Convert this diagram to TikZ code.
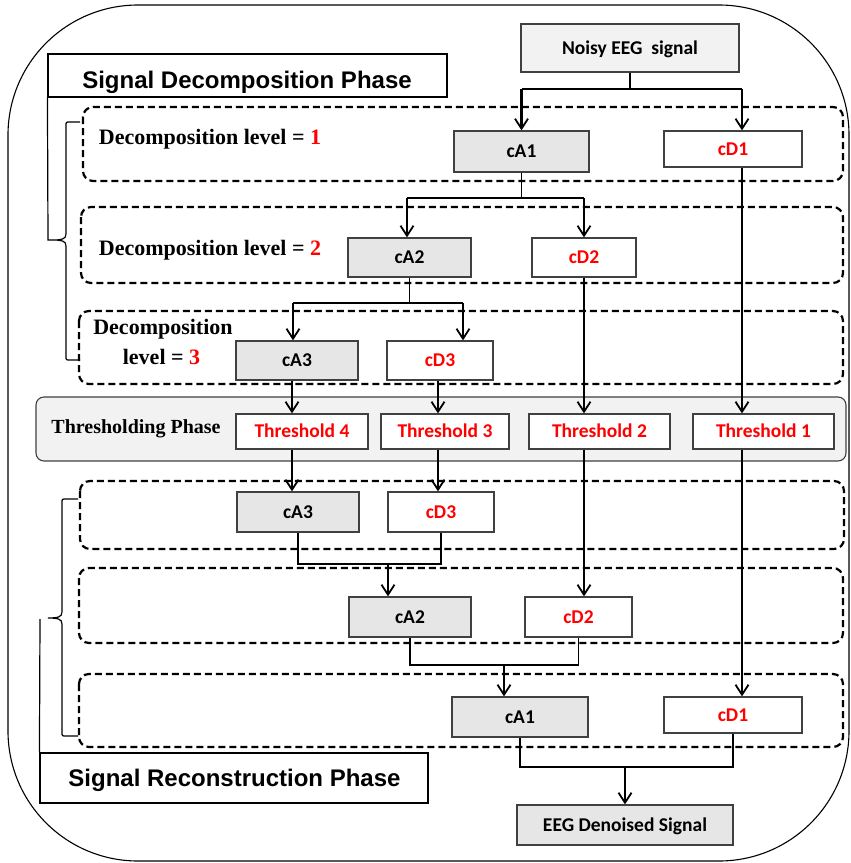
\documentclass[tikz,border=0pt]{standalone}
\usepackage{fontspec}
\setmainfont{Liberation Serif}
\newfontfamily\calfont{Carlito}
\newfontfamily\arialfont{Liberation Sans}
\usetikzlibrary{arrows.meta,calc}
\definecolor{grayA}{RGB}{230,230,230}
\definecolor{grayB}{RGB}{242,242,242}
\definecolor{edge}{RGB}{64,64,64}
\begin{document}
\begin{tikzpicture}[x=1pt,y=-1pt,
  bx/.style={draw=edge, line width=1.3pt, inner sep=0pt,
    font=\calfont\bfseries\fontsize{19.5}{22}\selectfont, text height=12pt, text depth=0pt, align=center},
  ga/.style={bx, fill=grayA, text=black},
  rd/.style={bx, fill=white, text=red},
  dbox/.style={draw=black, line width=2.2pt, dash pattern=on 7pt off 4pt, rounded corners=10pt},
  arr/.style={line width=2.2pt, -{Straight Barb[length=10pt,width=13pt,line width=1.8pt]}},
  stem/.style={line width=1.1pt},
  hbar/.style={line width=1.8pt},
  phbox/.style={draw=black, line width=1.1pt, fill=white, inner sep=0pt},
  phtext/.style={font=\arialfont\bfseries\fontsize{24}{28}\selectfont, anchor=base, inner sep=0pt},
  levtext/.style={font=\bfseries\fontsize{22}{26}\selectfont, anchor=base, inner sep=0pt},
  brace/.style={line width=1.2pt}
]
\useasboundingbox (0,0) rectangle (851,863);

% outer frame
\draw[black, line width=1.1pt, rounded corners=130pt] (8,5) rectangle (849,861);

% dashed level boxes
\draw[dbox] (83,107) rectangle (843,181);
\draw[dbox] (81,207) rectangle (843,283);
\draw[dbox] (79,311) rectangle (843,384);
\draw[dbox] (80,481) rectangle (844,549);
\draw[dbox] (79,568) rectangle (843,643);
\draw[dbox] (79,674) rectangle (843,747);

% thresholding phase band
\draw[fill=grayB, draw=edge, line width=1.1pt, rounded corners=8pt] (36,397) rectangle (846,461);
\node[font=\bfseries\fontsize{20}{23}\selectfont, anchor=base, inner sep=0pt] (thph) at (136,433) {Thresholding Phase};

% phase labels
\node[phbox, minimum width=399pt, minimum height=43pt] (decph) at (247.5,75.5) {};
\node[phtext] (decphT) at (247,88) {Signal Decomposition Phase};
\node[phbox, minimum width=388pt, minimum height=50pt] (recph) at (234,778) {};
\node[phtext] (recphT) at (234.5,786) {Signal Reconstruction Phase};

% braces
\draw[brace] (decph.south west) -- (48,240) -- (53,240);
\draw[brace] (80,122) -- (70,122) .. controls (66,122) and (66,122) .. (66,126) -- (66,234)
  .. controls (66,239) and (62,240) .. (53,240) .. controls (62,240) and (66,241) .. (66,246)
  -- (66,356) .. controls (66,360) and (66,360) .. (70,360) -- (80,360);
\draw[brace] (78,499) -- (66,499) .. controls (62,499) and (62,499) .. (62,503) -- (62,612)
  .. controls (62,617) and (58,618) .. (48,618) .. controls (58,618) and (62,619) .. (62,624)
  -- (62,732) .. controls (62,736) and (62,736) .. (66,736) -- (78,736);
\draw[brace] (40,619) -- (recph.north west);

% level texts
\node[levtext] (lev1) at (210,144) {Decomposition level = \textcolor{red}{1}};
\node[levtext] (lev2) at (210,255) {Decomposition level = \textcolor{red}{2}};
\node[levtext] (lev3a) at (163,334) {Decomposition};
\node[levtext] (lev3b) at (161.5,364) {level = \textcolor{red}{3}};

% decomposition nodes
\node[bx, fill=grayB, minimum width=218pt, minimum height=48pt] (noisy) at (630,48) {Noisy EEG\ \ signal};
\node[ga, minimum width=135pt, minimum height=41pt] (dA1) at (521.5,151.5) {cA1};
\node[rd, minimum width=138pt, minimum height=36pt] (dD1) at (733,149) {cD1};
\node[ga, minimum width=123pt, minimum height=39pt] (dA2) at (409.5,257.5) {cA2};
\node[rd, minimum width=104pt, minimum height=39pt] (dD2) at (584,257.5) {cD2};
\node[ga, minimum width=122pt, minimum height=39pt] (dA3) at (297,360.5) {cA3};
\node[rd, minimum width=106pt, minimum height=39pt] (dD3) at (440,360.5) {cD3};

% thresholds
\node[rd, minimum width=132pt, minimum height=35pt] (th4) at (302,431.5) {Threshold 4};
\node[rd, minimum width=128pt, minimum height=35pt] (th3) at (445,431.5) {Threshold 3};
\node[rd, minimum width=141pt, minimum height=35pt] (th2) at (599.5,431.5) {Threshold 2};
\node[rd, minimum width=141pt, minimum height=35pt] (th1) at (763.5,431.5) {Threshold 1};

% reconstruction nodes
\node[ga, minimum width=122pt, minimum height=40pt] (rA3) at (298,512) {cA3};
\node[rd, minimum width=106pt, minimum height=40pt] (rD3) at (441,512) {cD3};
\node[ga, minimum width=122pt, minimum height=40pt] (rA2) at (410,617) {cA2};
\node[rd, minimum width=107pt, minimum height=40pt] (rD2) at (578.5,617) {cD2};
\node[ga, minimum width=136pt, minimum height=40pt] (rA1) at (520,717) {cA1};
\node[rd, minimum width=138pt, minimum height=36pt] (rD1) at (733,715) {cD1};
\node[ga, minimum width=216pt, minimum height=40pt] (den) at (625,825) {EEG Denoised Signal};

% decomposition connectors
\coordinate (j0) at (630,89);
\coordinate (c1) at (742,0);
\draw[stem] (noisy.south) -- (noisy.south |- j0);
\draw[hbar] (dA1.north |- j0) -- (c1 |- j0);
\draw[arr] (dA1.north |- j0) -- (dA1.north);
\draw[arr] (c1 |- j0) -- (c1 |- dD1.north);

\coordinate (j1) at (0,198);
\coordinate (a2) at (407,0);
\draw[stem] (dA1.south) -- (dA1.south |- j1);
\draw[hbar] (a2 |- j1) -- (dD2.north |- j1);
\draw[arr] (a2 |- j1) -- (a2 |- dA2.north);
\draw[arr] (dD2.north |- j1) -- (dD2.north);

\coordinate (j2) at (0,303);
\coordinate (a3) at (293,0);
\coordinate (d3) at (463,0);
\draw[stem] (dA2.south) -- (dA2.south |- j2);
\draw[hbar] (a3 |- j2) -- (d3 |- j2);
\draw[arr] (a3 |- j2) -- (a3 |- dA3.north);
\draw[arr] (d3 |- j2) -- (d3 |- dD3.north);

% to and from thresholds
\coordinate (t4) at (292,0);
\coordinate (t3) at (438,0);
\coordinate (t2) at (584,0);
\draw[arr] (t4 |- dA3.south) -- (t4 |- th4.north);
\draw[arr] (t3 |- dD3.south) -- (t3 |- th3.north);
\draw[arr] (t2 |- dD2.south) -- (t2 |- th2.north);
\draw[arr] (c1 |- dD1.south) -- (c1 |- th1.north);
\draw[arr] (t4 |- th4.south) -- (t4 |- rA3.north);
\draw[arr] (t3 |- th3.south) -- (t3 |- rD3.north);
\draw[arr] (t2 |- th2.south) -- (t2 |- rD2.north);
\draw[arr] (c1 |- th1.south) -- (c1 |- rD1.north);

% reconstruction connectors
\coordinate (k3) at (0,564);
\coordinate (m3) at (388,0);
\draw[stem] (rA3.south) -- (rA3.south |- k3) -- (rD3.south |- k3) -- (rD3.south);
\draw[arr] (m3 |- k3) -- (m3 |- rA2.north);
\coordinate (k2) at (0,665);
\coordinate (m2) at (504,0);
\draw[stem] (rA2.south) -- (rA2.south |- k2) -- (rD2.south |- k2) -- (rD2.south);
\draw[arr] (m2 |- k2) -- (m2 |- rA1.north);
\coordinate (k1) at (0,767);
\draw[stem] (rA1.south) -- (rA1.south |- k1) -- (rD1.south |- k1) -- (rD1.south);
\draw[arr] (den.north |- k1) -- (den.north);
\end{tikzpicture}
\end{document}
